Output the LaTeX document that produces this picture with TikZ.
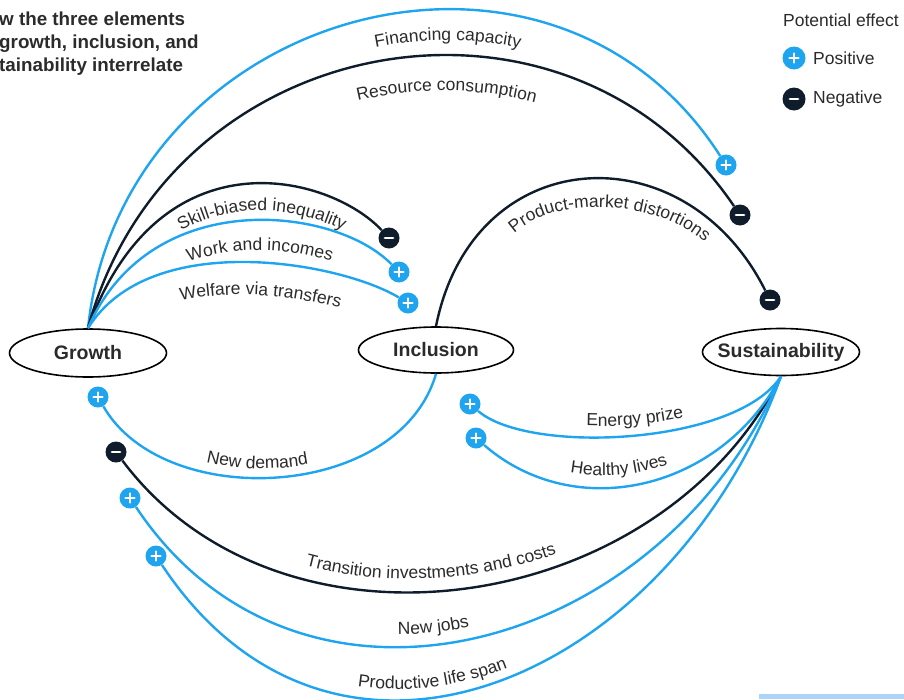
\documentclass[tikz,border=0pt]{standalone}
\usepackage{fontspec}
\setmainfont{Liberation Sans}
\usetikzlibrary{decorations.text,shapes.geometric}
\definecolor{cblue}{HTML}{1FA5EF}
\definecolor{cdark}{HTML}{0E1C2B}
\definecolor{ctext}{HTML}{2B2B2B}
\definecolor{cbar}{HTML}{ACD3FA}
\newcommand{\lblfont}{\fontsize{17.5}{20}\selectfont\color{ctext}}
\begin{document}
\begin{tikzpicture}[x=1pt,y=-1pt,
  ell/.style={ellipse, draw=black, line width=1.6pt, fill=white, minimum width=157pt, minimum height=48pt, inner sep=0pt, font=\fontsize{19.5}{22}\selectfont\bfseries, text=ctext},
  badge/.style={circle, minimum size=21pt, inner sep=0pt},
  posb/.style={badge, fill=cblue, path picture={
      \draw[white, line width=2.2pt, line cap=round] (path picture bounding box.center) ++(-4.5pt,0pt) -- ++(9pt,0pt);
      \draw[white, line width=2.2pt, line cap=round] (path picture bounding box.center) ++(0pt,-4.5pt) -- ++(0pt,9pt);}},
  negb/.style={badge, fill=cdark, path picture={
      \draw[white, line width=2.8pt, line cap=round] (path picture bounding box.center) ++(-4pt,0pt) -- ++(8pt,0pt);}},
  bl/.style={draw=cblue, line width=2.4pt},
  bk/.style={draw=cdark, line width=2.4pt},
  lbl/.style 2 args={decorate, decoration={text along path, text={|\lblfont|#1}, text align={#2}}},
  txt/.style={font=\fontsize{17.5}{20}\selectfont, text=ctext, inner sep=0pt},
  ttl/.style={font=\fontsize{18.8}{22}\selectfont\bfseries, text=ctext, inner sep=0pt, anchor=base west}
]
\useasboundingbox (0,0) rectangle (904,699);
\clip (0,0) rectangle (904,699);

% title
\node[ttl] (t1) at (-1,25) {w the three elements};
\node[ttl] (t2) at (-1,48) {growth, inclusion, and};
\node[ttl] (t3) at (-1,71) {tainability interrelate};

% legend
\node[txt, anchor=base west] (leg) at (783,26) {Potential effect};
\node[posb, minimum size=23pt] (lp) at (794,58) {};
\node[txt, anchor=west] (lpt) at (813,58) {Positive};
\node[negb, minimum size=23pt] (ln) at (794,99) {};
\node[txt, anchor=west] (lnt) at (813,99) {Negative};

% main nodes
\node[ell] (growth) at (88,353) {\makebox[0pt]{Growth}};
\node[ell, minimum width=155pt, minimum height=46pt] (incl) at (436,350) {\makebox[0pt]{Inclusion}};
\node[ell, minimum height=47pt] (sus) at (781,352) {\makebox[0pt]{Sustainability}};

% badges
\node[posb] (b1) at (726,165) {};
\node[negb] (b2) at (740,215) {};
\node[negb] (b3) at (389,238) {};
\node[posb] (b4) at (399,272) {};
\node[posb] (b5) at (408,303) {};
\node[negb] (b6) at (770,300) {};
\node[posb] (b7) at (98,397) {};
\node[negb] (b8) at (116,452) {};
\node[posb] (b9) at (130,498) {};
\node[posb] (b10) at (156,556) {};
\node[posb] (b11) at (470,404) {};
\node[posb] (b12) at (476,438) {};

% connectors
\draw[bl] (growth.north) .. controls (122,8) and (550,-110) .. (b1);
\draw[bk] (growth.north) .. controls (169,27) and (566,-42) .. (b2);
\draw[bk] (growth.north) .. controls (160,130) and (330,175) .. (b3);
\draw[bl] (growth.north) .. controls (150,185) and (335,206) .. (b4);
\draw[bl] (growth.north) .. controls (150,228) and (340,262) .. (b5);
\draw[bk] (incl.north) .. controls (473,141) and (685,130) .. (b6);
\draw[bl] (b7) .. controls (164,512) and (399,501) .. (incl.south);
\draw[bk] (b8) .. controls (280,671) and (657,620) .. (sus.south);
\draw[bl] (b9) .. controls (298,751) and (660,657) .. (sus.south);
\draw[bl] (b10) .. controls (335,826) and (670,681) .. (sus.south);
\draw[bl] (b11) .. controls (529,455) and (737,445) .. (sus.south);
\draw[bl] (b12) .. controls (575,524) and (720,491) .. (sus.south);

% connector labels (baselines parallel to the connectors)
\path[shift={(0,29)}, lbl={Financing capacity}{center, left indent=194pt}]
  (88,329) .. controls (122,8) and (550,-110) .. (726,165);
\path[shift={(0,34)}, lbl={Resource consumption}{center, left indent=138pt}]
  (88,329) .. controls (169,27) and (566,-42) .. (740,215);
\path[shift={(0,26)}, lbl={Skill-biased inequality}{center, left indent=101pt}]
  (88,329) .. controls (160,130) and (330,175) .. (389,238);
\path[shift={(0,29)}, lbl={Work and incomes}{center, left indent=64pt}]
  (88,329) .. controls (150,185) and (335,206) .. (399,272);
\path[shift={(0,32)}, lbl={Welfare via transfers}{center, left indent=40pt}]
  (88,329) .. controls (150,228) and (340,262) .. (408,303);
\path[lbl={Product-market distortions}{center}]
  (500,255) .. controls (522,190) and (675,190) .. (722,262);
\path[shift={(0,-8)}, lbl={New demand}{center, right indent=36pt}]
  (98,397) .. controls (164,512) and (399,501) .. (436,373);
\path[shift={(0,-12)}, lbl={Transition investments and costs}{center, right indent=70pt}]
  (116,452) .. controls (280,671) and (657,620) .. (781,376);
\path[shift={(0,-11)}, lbl={New jobs}{center, right indent=104pt}]
  (130,498) .. controls (298,751) and (660,657) .. (781,376);
\path[shift={(0,-9)}, lbl={Productive life span}{center, right indent=166pt}]
  (156,556) .. controls (335,826) and (670,681) .. (781,376);
\path[shift={(0,-10)}, lbl={Energy prize}{center, left indent=10pt}]
  (470,404) .. controls (529,455) and (737,445) .. (781,376);
\path[shift={(0,-11)}, lbl={Healthy lives}{center, right indent=48pt}]
  (476,438) .. controls (575,524) and (720,491) .. (781,376);

% bottom bar
\fill[cbar] (759,694) rectangle (904,699);
\end{tikzpicture}
\end{document}
